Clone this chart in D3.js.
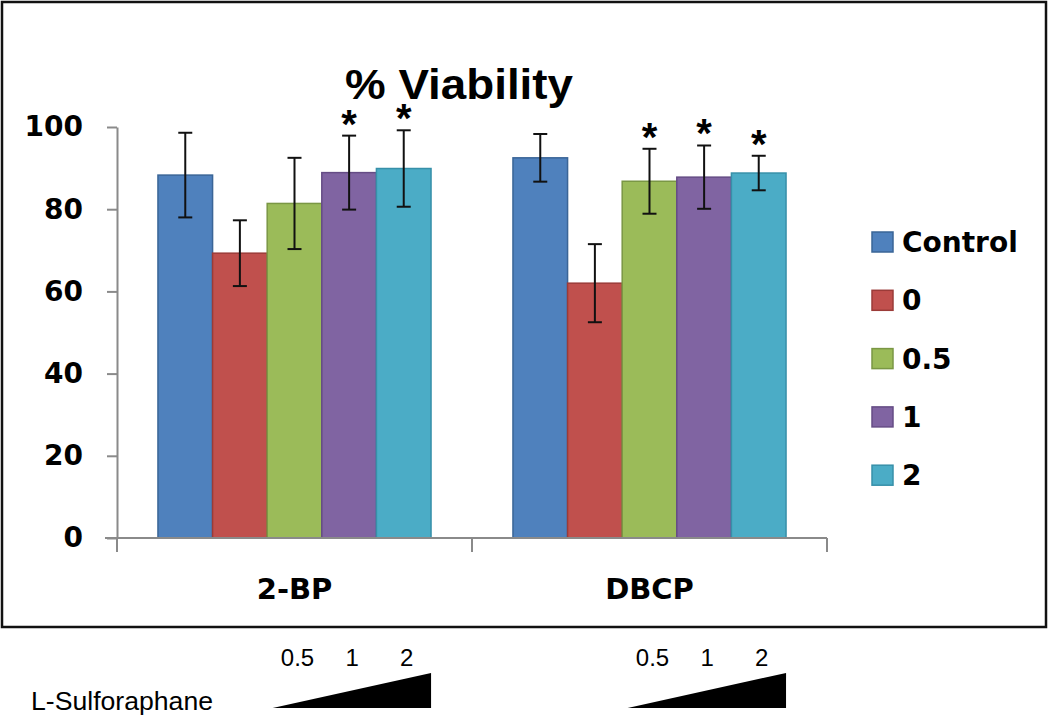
<!DOCTYPE html>
<html>
<head>
<meta charset="utf-8">
<script src="https://cdn.jsdelivr.net/npm/d3@7"></script>
<style>
  html, body { margin: 0; padding: 0; background: #fff; }
  svg { display: block; }
</style>
</head>
<body>
<svg id="chart" width="1050" height="717"></svg>
<script>
// ---- data ----
const groups = ["2-BP", "DBCP"];
const series = ["Control", "0", "0.5", "1", "2"];
const means2BP = [88.3, 69.3, 81.4, 88.9, 89.9];
const err2BP   = [10.3, 8.0, 11.1, 9.0, 9.3];
const stars2BP = [false, false, false, true, true];
const meansDBCP = [92.5, 62.0, 86.8, 87.8, 88.8];
const errDBCP   = [5.8, 9.5, 7.9, 7.7, 4.2];
const starsDBCP = [false, false, true, true, true];
const yTicks = [0, 20, 40, 60, 80, 100];
const doseLabels = ["0.5", "1", "2"];
const colors  = ["#4F81BD", "#C0504D", "#9BBB59", "#8064A2", "#4BACC6"];
const strokes = ["#3A6597", "#9B3B38", "#7A9744", "#654C85", "#3790A9"];

const table = [
  {group: groups[0], means: means2BP, errs: err2BP, stars: stars2BP},
  {group: groups[1], means: meansDBCP, errs: errDBCP, stars: starsDBCP}
];

const svg = d3.select("#chart");

// outer frame
svg.append("rect").attr("x", 2).attr("y", 2).attr("width", 1044).attr("height", 625)
  .attr("fill", "#fff").attr("stroke", "#111").attr("stroke-width", 2.5);

// scales
const y = d3.scaleLinear().domain([0, 100]).range([538, 127]);
const x0 = d3.scaleBand().domain(groups).range([117, 827]).paddingInner(0).paddingOuter(0);
const x1 = d3.scaleBand().domain(series).range([0, x0.bandwidth()]).paddingInner(0).paddingOuter(0.75);
const axisColor = "#8a8a8a";

// title
svg.append("text").attr("x", 459).attr("y", 99).attr("text-anchor", "middle")
  .attr("font-family", "Liberation Sans, Arial, sans-serif").attr("font-weight", "bold")
  .attr("font-size", 42).attr("textLength", 228).attr("lengthAdjust", "spacingAndGlyphs")
  .attr("fill", "#000").text("% Viability");

// y axis
const yAxis = svg.append("g").attr("transform", "translate(117,0)")
  .call(d3.axisLeft(y).tickValues(yTicks).tickSize(10).tickPadding(24).tickSizeOuter(0));
yAxis.select(".domain").attr("stroke", axisColor).attr("stroke-width", 2);
yAxis.selectAll(".tick line").attr("stroke", axisColor).attr("stroke-width", 2);
yAxis.selectAll(".tick text").attr("font-family", "DejaVu Sans, sans-serif")
  .attr("font-weight", "bold").attr("font-size", 28).attr("fill", "#000");
svg.append("line").attr("x1", 117).attr("x2", 117).attr("y1", y(0)).attr("y2", 552)
  .attr("stroke", axisColor).attr("stroke-width", 2);

// bars
const gGroups = svg.append("g").selectAll("g").data(table).join("g")
  .attr("transform", d => `translate(${x0(d.group)},0)`);

gGroups.selectAll("rect").data(d => d.means.map((m, i) => ({s: series[i], v: m, i})))
  .join("rect")
  .attr("x", d => x1(d.s)).attr("y", d => y(d.v))
  .attr("width", x1.bandwidth()).attr("height", d => y(0) - y(d.v))
  .attr("fill", d => colors[d.i]).attr("stroke", d => strokes[d.i]).attr("stroke-width", 1.5);

// error bars
const eb = gGroups.selectAll("g.err").data(d => d.means.map((m, i) => ({s: series[i], v: m, e: d.errs[i], star: d.stars[i]})))
  .join("g").attr("class", "err")
  .attr("transform", d => `translate(${x1(d.s) + x1.bandwidth() / 2},0)`);
eb.append("line").attr("x1", 0).attr("x2", 0).attr("y1", d => y(d.v + d.e)).attr("y2", d => y(d.v - d.e))
  .attr("stroke", "#111").attr("stroke-width", 2);
eb.append("line").attr("x1", -7).attr("x2", 7).attr("y1", d => y(d.v + d.e)).attr("y2", d => y(d.v + d.e))
  .attr("stroke", "#111").attr("stroke-width", 2);
eb.append("line").attr("x1", -7).attr("x2", 7).attr("y1", d => y(d.v - d.e)).attr("y2", d => y(d.v - d.e))
  .attr("stroke", "#111").attr("stroke-width", 2);
eb.filter(d => d.star).append("text")
  .attr("x", 0).attr("y", d => y(d.v + d.e) + 2)
  .attr("text-anchor", "middle").attr("font-family", "Liberation Sans, Arial, sans-serif")
  .attr("font-weight", "bold").attr("font-size", 40).attr("fill", "#000").text("*");

// x axis
svg.append("line").attr("x1", 105).attr("x2", 827).attr("y1", y(0)).attr("y2", y(0))
  .attr("stroke", axisColor).attr("stroke-width", 2);
const bounds = groups.map(g => x0(g)).concat([x0(groups[groups.length - 1]) + x0.bandwidth()]);
svg.selectAll("line.xt").data(bounds).join("line").attr("class", "xt")
  .attr("x1", d => d).attr("x2", d => d).attr("y1", y(0)).attr("y2", 552)
  .attr("stroke", axisColor).attr("stroke-width", 2);
svg.selectAll("text.cat").data(groups).join("text").attr("class", "cat")
  .attr("x", d => x0(d) + x0.bandwidth() / 2).attr("y", 599).attr("text-anchor", "middle")
  .attr("font-family", "DejaVu Sans, sans-serif").attr("font-weight", "bold").attr("font-size", 29)
  .attr("fill", "#000").text(d => d);

// legend
const lg = svg.append("g").selectAll("g").data(series).join("g")
  .attr("transform", (d, i) => `translate(872,${242 + i * 58.3})`);
lg.append("rect").attr("x", 0).attr("y", -10).attr("width", 21).attr("height", 20)
  .attr("fill", (d, i) => colors[i]).attr("stroke", (d, i) => strokes[i]).attr("stroke-width", 1.5);
lg.append("text").attr("x", 30).attr("y", 10)
  .attr("font-family", "DejaVu Sans, sans-serif").attr("font-weight", "bold").attr("font-size", 28)
  .attr("fill", "#000").text(d => d);

// L-Sulforaphane annotation
svg.append("text").attr("x", 31).attr("y", 710)
  .attr("font-family", "Liberation Sans, Arial, sans-serif").attr("font-size", 26)
  .attr("textLength", 182).attr("lengthAdjust", "spacingAndGlyphs")
  .attr("fill", "#000").text("L-Sulforaphane");

// wedges under each group, aligned to the three treated bars
const doseSeries = series.slice(2);
groups.forEach(g => {
  const left = x0(g) + x1(series[0]) + x1.bandwidth() * 2.1;
  const right = x0(g) + x1(series[4]) + x1.bandwidth();
  const tri = d3.path();
  tri.moveTo(left, 708); tri.lineTo(right, 708); tri.lineTo(right, 673); tri.closePath();
  svg.append("path").attr("d", tri.toString()).attr("fill", "#000");
  svg.selectAll(null).data(doseLabels).join("text")
    .attr("x", (d, i) => x0(g) + x1(doseSeries[i]) + x1.bandwidth() / 2 + 3)
    .attr("y", 666).attr("text-anchor", "middle")
    .attr("font-family", "Liberation Sans, Arial, sans-serif").attr("font-size", 24)
    .attr("fill", "#000").text(d => d);
});
</script>
</body>
</html>
